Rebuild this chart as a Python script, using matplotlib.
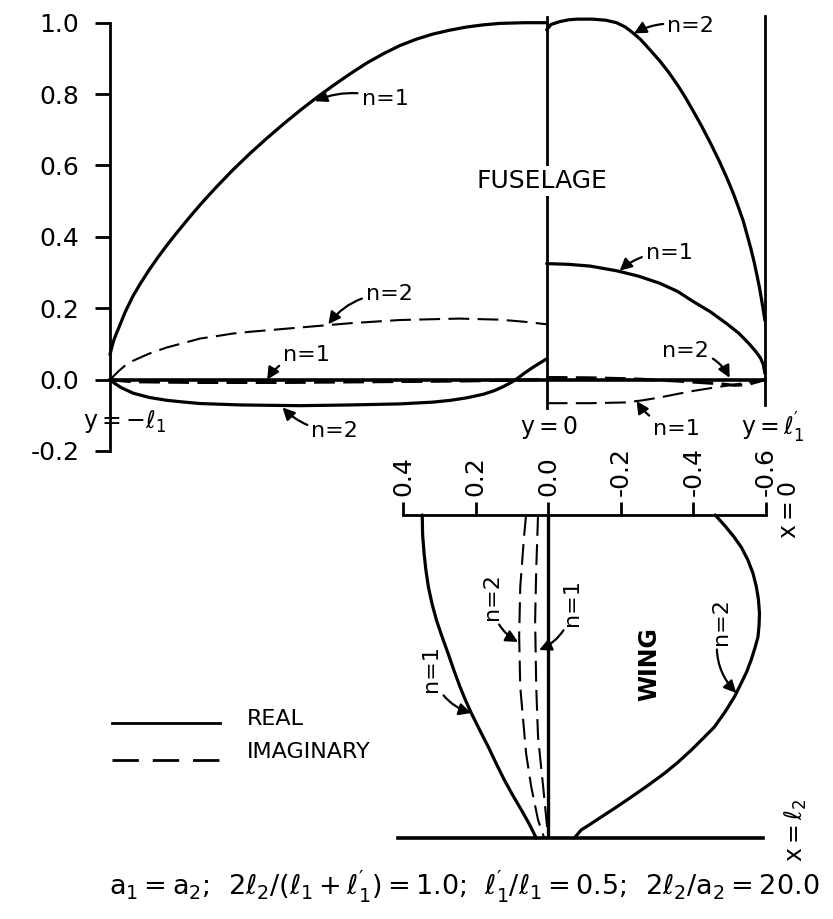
import matplotlib
matplotlib.use("Agg")
import matplotlib.pyplot as plt
from matplotlib.lines import Line2D

plt.rcParams['font.family'] = ['DejaVu Sans']
plt.rcParams['mathtext.default'] = 'regular'
plt.rcParams['lines.scale_dashes'] = False

# ---------------- Fuselage (position y/l1, from y=-l1 to y=l1') ----------------
fus_n1_real_left_s = [-1.0, -0.995, -0.99, -0.98, -0.965, -0.947, -0.93, -0.91, -0.89, -0.87,
                      -0.85, -0.832, -0.813, -0.794, -0.775, -0.756, -0.719, -0.68, -0.641,
                      -0.603, -0.565, -0.527, -0.49, -0.451, -0.412, -0.374, -0.336, -0.298,
                      -0.261, -0.222, -0.183, -0.145, -0.108, -0.05, 0.0]
fus_n1_real_left = [0.07, 0.095, 0.115, 0.145, 0.19, 0.235, 0.27, 0.308, 0.343, 0.376,
                    0.407, 0.434, 0.462, 0.489, 0.515, 0.54, 0.587, 0.633, 0.676,
                    0.716, 0.754, 0.79, 0.823, 0.856, 0.887, 0.913, 0.936, 0.954,
                    0.968, 0.979, 0.988, 0.994, 0.998, 1.0, 1.0]

fus_n2_imag_left_s = [-1.0, -0.99, -0.98, -0.965, -0.947, -0.91, -0.87, -0.83, -0.794, -0.75,
                      -0.719, -0.68, -0.641, -0.565, -0.45, -0.336, -0.2, -0.108, -0.05, 0.0]
fus_n2_imag_left = [0.0, 0.012, 0.024, 0.04, 0.053, 0.073, 0.09, 0.103, 0.115, 0.123,
                    0.129, 0.134, 0.138, 0.146, 0.158, 0.167, 0.171, 0.168, 0.162, 0.155]

fus_n2_real_left_s = [-1.0, -0.99, -0.975, -0.947, -0.91, -0.87, -0.83, -0.794, -0.7, -0.565,
                      -0.45, -0.336, -0.26, -0.22, -0.183, -0.145, -0.12, -0.1, -0.08,
                      -0.065, -0.05, -0.032, -0.015, 0.0]
fus_n2_real_left = [0.0, -0.01, -0.022, -0.038, -0.05, -0.058, -0.063, -0.067, -0.071, -0.073,
                    -0.071, -0.068, -0.063, -0.058, -0.051, -0.041, -0.031, -0.02, -0.007,
                    0.005, 0.019, 0.034, 0.047, 0.058]

fus_n1_imag_left_s = [-1.0, -0.95, -0.8, -0.6, -0.4, -0.2, 0.0]
fus_n1_imag_left = [0.0, -0.006, -0.008, -0.008, -0.006, -0.004, 0.0]

fus_n2_real_right_s = [0.0, 0.01, 0.03, 0.05, 0.07, 0.105, 0.135, 0.16, 0.18, 0.197, 0.215,
                       0.23, 0.259, 0.28, 0.3, 0.317, 0.334, 0.355, 0.375, 0.395, 0.412,
                       0.428, 0.44, 0.45, 0.458, 0.467, 0.475, 0.482, 0.487, 0.492, 0.496, 0.5]
fus_n2_real_right = [0.98, 0.995, 1.003, 1.008, 1.01, 1.01, 1.007, 1.0, 0.988, 0.972, 0.953,
                     0.933, 0.893, 0.86, 0.825, 0.792, 0.756, 0.71, 0.663, 0.613, 0.567,
                     0.52, 0.48, 0.445, 0.41, 0.37, 0.33, 0.29, 0.26, 0.225, 0.195, 0.165]

fus_n1_real_right_s = [0.0, 0.05, 0.1, 0.16, 0.21, 0.259, 0.3, 0.334, 0.375, 0.412, 0.44,
                       0.464, 0.48, 0.49, 0.496, 0.5]
fus_n1_real_right = [0.325, 0.323, 0.318, 0.305, 0.29, 0.27, 0.247, 0.22, 0.19, 0.157, 0.13,
                     0.10, 0.077, 0.06, 0.042, 0.017]

fus_n1_imag_right_s = [0.0, 0.1, 0.18, 0.22, 0.259, 0.3, 0.334, 0.375, 0.412, 0.45, 0.49, 0.5]
fus_n1_imag_right = [-0.066, -0.066, -0.064, -0.058, -0.05, -0.04, -0.032, -0.024, -0.017,
                     -0.01, -0.003, 0.0]

fus_n2_imag_right_s = [0.0, 0.1, 0.2, 0.3, 0.4, 0.43, 0.46, 0.5]
fus_n2_imag_right = [0.006, 0.005, 0.002, -0.004, -0.012, -0.016, -0.014, 0.0]

fus_yticks = [-0.2, 0.0, 0.2, 0.4, 0.6, 0.8, 1.0]
fus_ytick_labels = ['-0.2', '0.0', '0.2', '0.4', '0.6', '0.8', '1.0']

# ---------------- Wing (position x/l2, from x=0 to x=l2) ----------------
wing_n1_real_t = [0.0, 0.06, 0.118, 0.17, 0.223, 0.275, 0.325, 0.375, 0.428, 0.48, 0.532,
                  0.573, 0.613, 0.665, 0.718, 0.77, 0.82, 0.865, 0.913, 0.955, 1.0]
wing_n1_real = [0.347, 0.346, 0.342, 0.337, 0.330, 0.320, 0.308, 0.293, 0.276, 0.260, 0.243,
                0.228, 0.212, 0.189, 0.165, 0.143, 0.121, 0.099, 0.074, 0.053, 0.033]

wing_n2_imag_t = [0.0, 0.06, 0.118, 0.223, 0.377, 0.532, 0.635, 0.737, 0.84, 0.944, 1.0]
wing_n2_imag = [0.061, 0.066, 0.070, 0.077, 0.08, 0.077, 0.069, 0.061, 0.047, 0.028, 0.011]

wing_n1_imag_t = [0.0, 0.17, 0.325, 0.532, 0.687, 0.84, 1.0]
wing_n1_imag = [0.028, 0.033, 0.036, 0.033, 0.028, 0.014, 0.0]

wing_n2_real_t = [0.0, 0.035, 0.068, 0.1, 0.139, 0.18, 0.22, 0.26, 0.303, 0.34, 0.377, 0.41,
                  0.449, 0.485, 0.52, 0.563, 0.61, 0.656, 0.69, 0.728, 0.765, 0.8, 0.837,
                  0.873, 0.905, 0.935, 0.958, 0.975, 1.0]
wing_n2_real = [-0.46, -0.488, -0.512, -0.532, -0.55, -0.564, -0.573, -0.579, -0.582, -0.581,
                -0.578, -0.57, -0.559, -0.547, -0.532, -0.513, -0.487, -0.458, -0.428,
                -0.394, -0.358, -0.32, -0.275, -0.229, -0.187, -0.146, -0.115, -0.091, -0.072]

wing_xticks = [0.4, 0.2, 0.0, -0.2, -0.4, -0.6]
wing_xtick_labels = ['0.4', '0.2', '0.0', '-0.2', '-0.4', '-0.6']

# ---------------- figure layout ----------------
W, H = 833, 919
fig = plt.figure(figsize=(W / 100, H / 100), dpi=100)


def box(x0, y0, x1, y1):
    return [x0 / W, 1 - y1 / H, (x1 - x0) / W, (y1 - y0) / H]


SOLID = dict(color='black', lw=2.3, solid_capstyle='round', solid_joinstyle='round')
DASH = dict(color='black', lw=1.5, dashes=(15, 6))
ARROW = dict(arrowstyle='-|>', color='black', lw=1.6, mutation_scale=18,
             shrinkA=1, shrinkB=0)
NSIZE = 16


def note(ax, txt, tip, at, rad, rot=0, size=NSIZE):
    ax.annotate(txt, xy=tip, xytext=at, ha='center', va='center', rotation=rot,
                fontsize=size, annotation_clip=False,
                arrowprops=dict(ARROW, connectionstyle=f'arc3,rad={rad}'))


# ---- fuselage panel ----
ax = fig.add_axes(box(110, 22.7, 765, 451))
ax.patch.set_alpha(0)
ax.set_xlim(-1.0, 0.5)
ax.set_ylim(-0.2, 1.0)
for side in ('top', 'right', 'bottom'):
    ax.spines[side].set_visible(False)
ax.spines['left'].set_linewidth(2.0)
ax.set_xticks([])
ax.set_yticks(fus_yticks)
ax.set_yticklabels(fus_ytick_labels)
ax.tick_params(axis='y', direction='out', length=11, width=2, pad=11, labelsize=18)

ax.plot([-1.0, 0.5], [0, 0], color='black', lw=2.6, clip_on=False)
ax.plot([0, 0], [-0.08, 1.015], color='black', lw=2.0, clip_on=False)
ax.plot([0.5, 0.5], [-0.07, 1.02], color='black', lw=2.0, clip_on=False)

ax.plot(fus_n1_real_left_s, fus_n1_real_left, clip_on=False, **SOLID)
ax.plot(fus_n2_real_left_s, fus_n2_real_left, clip_on=False, **SOLID)
ax.plot(fus_n2_imag_left_s, fus_n2_imag_left, clip_on=False, **DASH)
ax.plot(fus_n1_imag_left_s, fus_n1_imag_left, clip_on=False, **dict(DASH, lw=2.2))
ax.plot(fus_n2_real_right_s, fus_n2_real_right, clip_on=False, **SOLID)
ax.plot(fus_n1_real_right_s, fus_n1_real_right, clip_on=False, **SOLID)
ax.plot(fus_n1_imag_right_s, fus_n1_imag_right, clip_on=False, **DASH)
ax.plot(fus_n2_imag_right_s, fus_n2_imag_right, clip_on=False, **dict(DASH, lw=2.2))

ax.text(-0.011, 0.556, 'FUSELAGE', ha='center', va='center', fontsize=18,
        bbox=dict(facecolor='white', edgecolor='none', pad=2))

note(ax, 'n=1', (-0.531, 0.78), (-0.37, 0.786), 0.2)
note(ax, 'n=2', (0.2, 0.97), (0.33, 0.99), 0.2)
note(ax, 'n=1', (0.167, 0.305), (0.281, 0.355), 0.2)
note(ax, 'n=2', (-0.50, 0.155), (-0.36, 0.24), 0.25)
note(ax, 'n=1', (-0.64, 0.0), (-0.55, 0.068), 0.25)
note(ax, 'n=2', (-0.605, -0.078), (-0.485, -0.144), -0.2)
note(ax, 'n=2', (0.419, 0.005), (0.318, 0.08), -0.3)
note(ax, 'n=1', (0.206, -0.06), (0.297, -0.139), -0.2)

ax.text(-0.966, -0.117, r'$y=-\ell_1$', ha='center', va='center', fontsize=17)
ax.text(0.005, -0.135, r'$y=0$', ha='center', va='center', fontsize=17)
ax.text(0.518, -0.135, r"$y=\ell_1'$", ha='center', va='center', fontsize=17)

# ---- wing panel ----
aw = fig.add_axes(box(403, 515, 766, 838))
aw.patch.set_alpha(0)
aw.set_xlim(0.4, -0.6)
aw.set_ylim(1.0, 0.0)
for side in ('left', 'right', 'bottom'):
    aw.spines[side].set_visible(False)
aw.spines['top'].set_linewidth(2.0)
aw.xaxis.tick_top()
aw.set_yticks([])
aw.set_xticks(wing_xticks)
aw.set_xticklabels(wing_xtick_labels)
aw.tick_params(axis='x', direction='out', length=9.5, width=2, pad=4,
               labelsize=18, labelrotation=90)

aw.plot([0, 0], [0, 1], color='black', lw=2.4)
aw.plot([0.414, -0.593], [1, 1], color='black', lw=2.6, clip_on=False)

aw.plot(wing_n1_real, wing_n1_real_t, clip_on=False, **SOLID)
aw.plot(wing_n2_real, wing_n2_real_t, clip_on=False, **SOLID)
aw.plot(wing_n2_imag, wing_n2_imag_t, clip_on=False, **DASH)
aw.plot(wing_n1_imag, wing_n1_imag_t, clip_on=False, **DASH)

aw.text(-0.278, 0.461, 'WING', rotation=90, ha='center', va='center',
        fontsize=17, fontweight='bold')
note(aw, 'n=2', (-0.518, 0.551), (-0.477, 0.331), 0.3, rot=90)
note(aw, 'n=1', (0.212, 0.613), (0.322, 0.474), 0.3, rot=90)
note(aw, 'n=2', (0.083, 0.393), (0.154, 0.254), 0.3, rot=90)
note(aw, 'n=1', (0.025, 0.418), (-0.066, 0.272), -0.3, rot=90)

aw.text(-0.664, -0.015, r'$x=0$', rotation=90, ha='center', va='center', fontsize=17)
aw.text(-0.683, 0.975, r'$x=\ell_2$', rotation=90, ha='center', va='center', fontsize=17)

# ---- legend ----
fig.add_artist(Line2D([112 / W, 220 / W], [1 - 723 / H] * 2, color='black', lw=2.0))
fig.add_artist(Line2D([112 / W, 220 / W], [1 - 760 / H] * 2, color='black', lw=2.0,
                      dashes=(19, 10)))
fig.text(247 / W, 1 - 719 / H, 'REAL', ha='left', va='center', fontsize=16)
fig.text(247 / W, 1 - 752 / H, 'IMAGINARY', ha='left', va='center', fontsize=16)

# ---- parameter line ----
fig.text(464 / W, 1 - 886 / H,
         r"$a_1=a_2$;  $2\ell_2/(\ell_1+\ell_1')=1.0$;  $\ell_1'/\ell_1=0.5$;  $2\ell_2/a_2=20.0$",
         ha='center', va='center', fontsize=19.5)

fig.savefig('out.png', dpi=100, facecolor='white')
